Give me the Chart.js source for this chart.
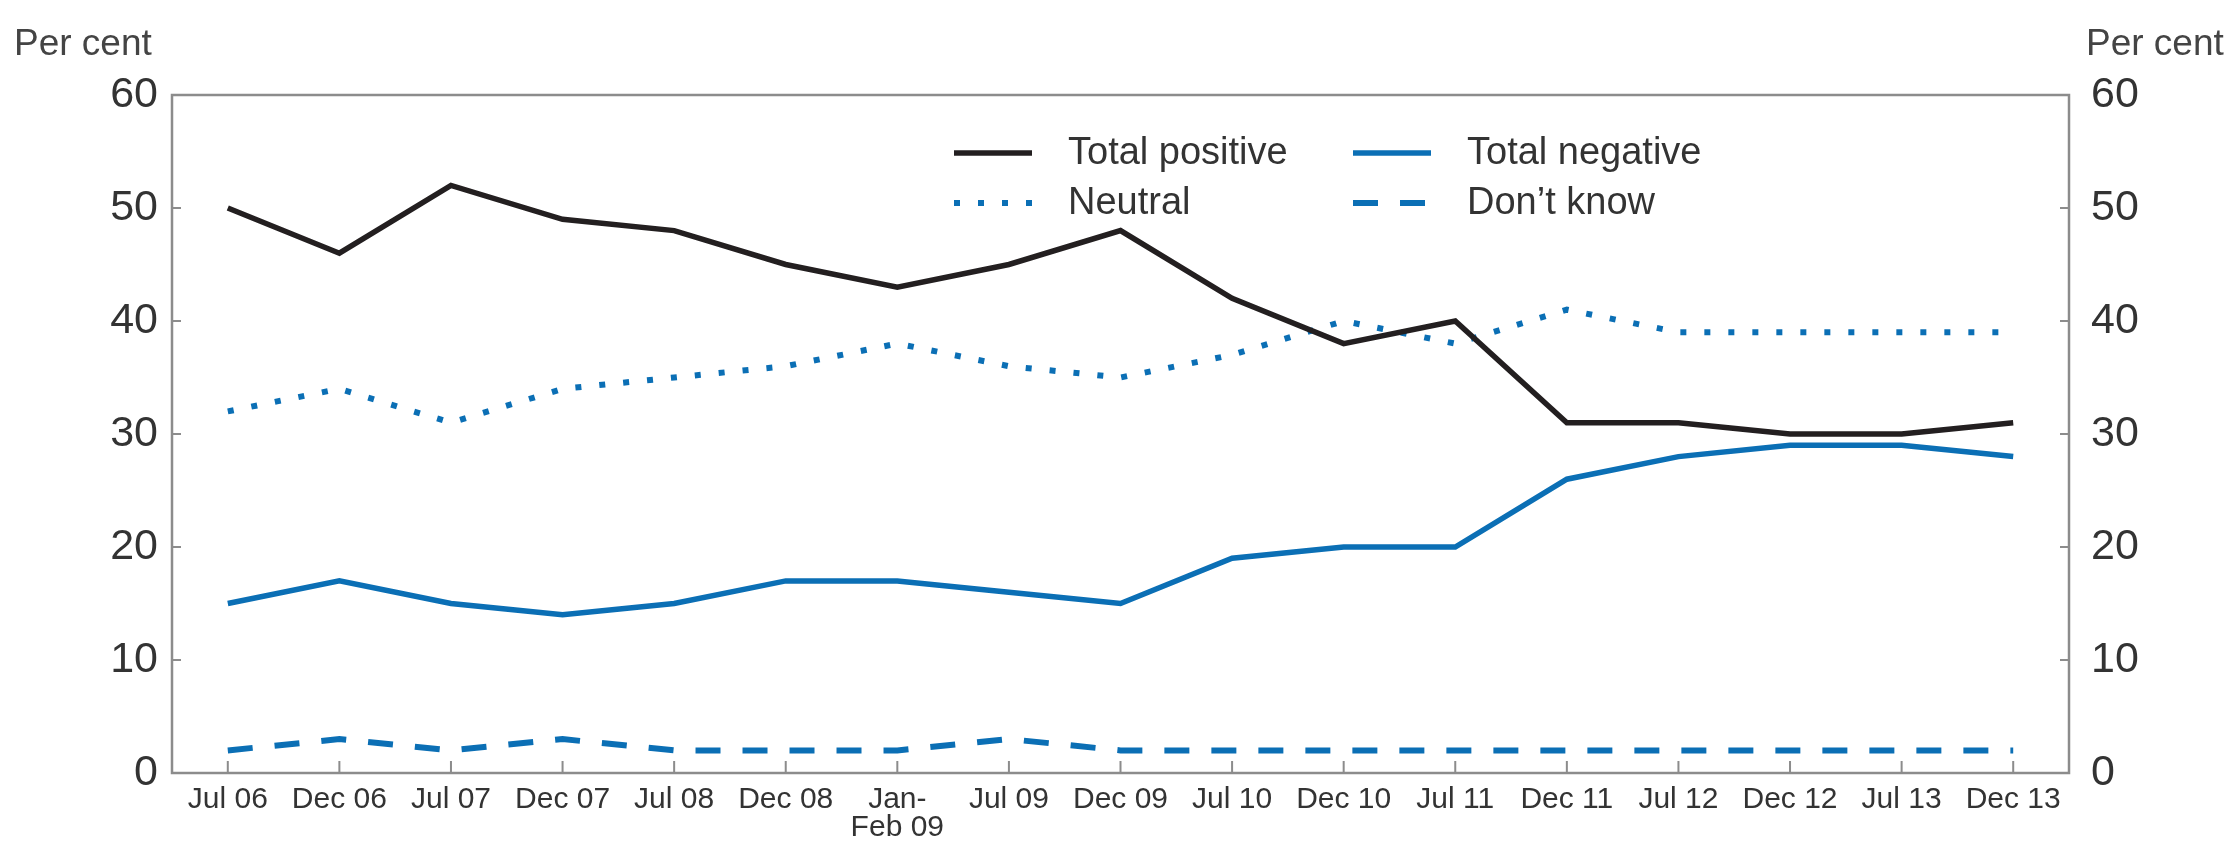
<!DOCTYPE html>
<html>
<head>
<meta charset="utf-8">
<script src="https://cdn.jsdelivr.net/npm/chart.js@4/dist/chart.umd.min.js"></script>
<style>
html, body { margin: 0; padding: 0; background: #fff; }
#wrap { width: 2228px; height: 843px; }
</style>
</head>
<body>
<div id="wrap"><canvas id="chart" width="2228" height="843"></canvas></div>
<script>
// Survey: attitudes, per cent of respondents
const categories = ['Jul 06', 'Dec 06', 'Jul 07', 'Dec 07', 'Jul 08', 'Dec 08', ['Jan-', 'Feb 09'], 'Jul 09', 'Dec 09',
    'Jul 10', 'Dec 10', 'Jul 11', 'Dec 11', 'Jul 12', 'Dec 12', 'Jul 13', 'Dec 13'];
const totalPositive = [50, 46, 52, 49, 48, 45, 43, 45, 48, 42, 38, 40, 31, 31, 30, 30, 31];
const totalNegative = [15, 17, 15, 14, 15, 17, 17, 16, 15, 19, 20, 20, 26, 28, 29, 29, 28];
const neutral = [32, 34, 31, 34, 35, 36, 38, 36, 35, 37, 40, 38, 41, 39, 39, 39, 39];
const dontKnow = [2, 3, 2, 3, 2, 2, 2, 3, 2, 2, 2, 2, 2, 2, 2, 2, 2];
const yTicks = [0, 10, 20, 30, 40, 50, 60];

const black = '#231f20';
const blue = '#0b6fb5';
const axisGrey = '#8c8c8c';
const textGrey = '#333333';
const fontFamily = "'Liberation Sans', Arial, sans-serif";

Chart.defaults.font.family = fontFamily;
Chart.defaults.color = textGrey;

// box round the plot, ticks pointing inward, unit labels and the 2x2 legend
const frame = {
    id: 'frame',
    afterDraw(chart) {
        const ctx = chart.ctx;
        const a = chart.chartArea;
        const sx = chart.scales.x;
        const sy = chart.scales.y;
        ctx.save();
        ctx.strokeStyle = axisGrey;
        ctx.lineWidth = 2.5;
        ctx.strokeRect(a.left, a.top, a.right - a.left, a.bottom - a.top);

        ctx.lineWidth = 2;
        ctx.beginPath();
        sy.ticks.forEach(t => {
            const y = sy.getPixelForValue(t.value);
            ctx.moveTo(a.left, y); ctx.lineTo(a.left + 9, y);
            ctx.moveTo(a.right, y); ctx.lineTo(a.right - 9, y);
        });
        sx.ticks.forEach((t, i) => {
            const x = sx.getPixelForTick(i);
            ctx.moveTo(x, a.bottom); ctx.lineTo(x, a.bottom - 12);
        });
        ctx.stroke();

        ctx.fillStyle = '#444';
        ctx.font = '37px ' + fontFamily;
        ctx.textBaseline = 'middle';
        ctx.textAlign = 'left';
        ctx.fillText('Per cent', 14, 45);
        ctx.fillText('Per cent', 2086, 45);

        // legend
        const cols = [954, 1353];
        const rows = [153, 203];
        ctx.font = '38px ' + fontFamily;
        ctx.fillStyle = textGrey;
        chart.data.datasets.forEach((ds, i) => {
            const x = cols[i % 2];
            const y = rows[Math.floor(i / 2)];
            ctx.save();
            ctx.strokeStyle = ds.borderColor;
            ctx.lineWidth = ds.borderWidth;
            ctx.setLineDash(ds.borderDash || []);
            ctx.beginPath();
            ctx.moveTo(x, y);
            ctx.lineTo(x + 78, y);
            ctx.stroke();
            ctx.restore();
            ctx.fillText(ds.label, x + 114, y + 1);
        });
        ctx.restore();
    }
};

function yAxis(pos, width, pad) {
    return {
        position: pos,
        min: 0,
        max: 60,
        afterBuildTicks: s => { s.ticks = yTicks.map(v => ({ value: v })); },
        afterFit: s => { s.width = width; },
        grid: { display: false, drawTicks: false },
        border: { display: false },
        ticks: { padding: pad, font: { size: 43 }, color: textGrey }
    };
}

new Chart(document.getElementById('chart'), {
    type: 'line',
    data: {
        labels: categories,
        datasets: [
            { label: 'Total positive', data: totalPositive, borderColor: black, borderWidth: 5.5 },
            { label: 'Total negative', data: totalNegative, borderColor: blue, borderWidth: 5.5 },
            { label: 'Neutral', data: neutral, borderColor: blue, borderWidth: 6, borderDash: [6, 18] },
            { label: 'Don\u2019t know', data: dontKnow, borderColor: blue, borderWidth: 6, borderDash: [25, 22] }
        ]
    },
    options: {
        responsive: false,
        animation: false,
        devicePixelRatio: 1,
        layout: { padding: { top: 95, left: 0, right: 0, bottom: 0 } },
        elements: {
            point: { radius: 0 },
            line: { tension: 0, fill: false }
        },
        plugins: {
            legend: { display: false },
            tooltip: { enabled: false }
        },
        scales: {
            x: {
                offset: true,
                afterFit: s => { s.height = 70; },
                grid: { display: false, drawTicks: false },
                border: { display: false },
                ticks: { padding: 12, font: { size: 30, lineHeight: 0.95 }, color: textGrey, maxRotation: 0, autoSkip: false }
            },
            y: yAxis('left', 172, 14),
            y1: yAxis('right', 159, 22)
        }
    },
    plugins: [frame]
});
</script>
</body>
</html>
